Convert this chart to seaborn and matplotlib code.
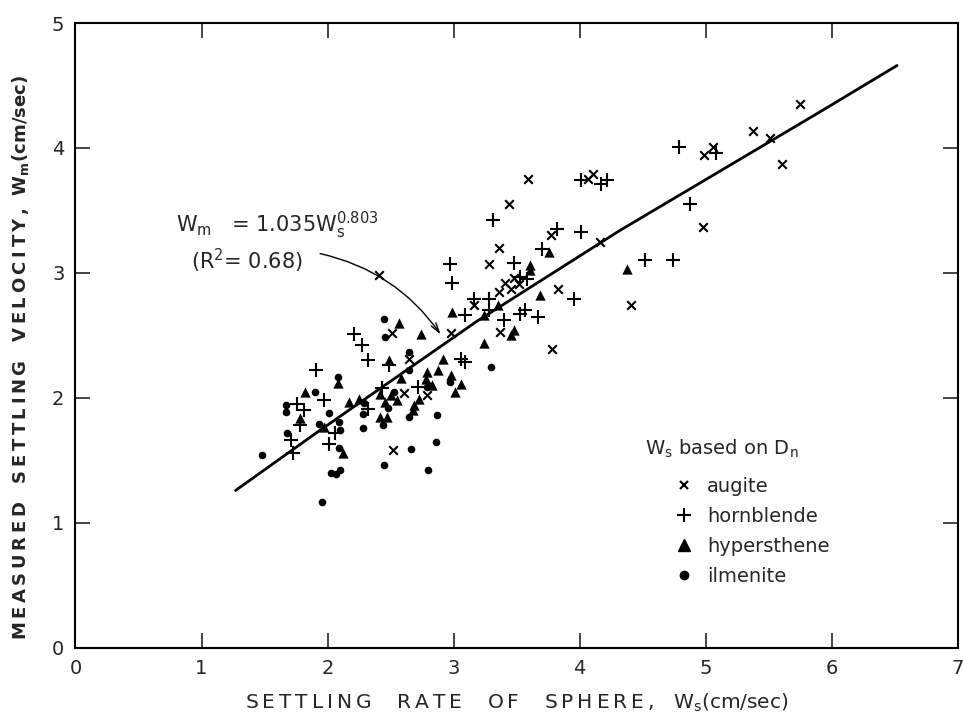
import matplotlib
matplotlib.use("Agg")
import matplotlib.pyplot as plt
from matplotlib.lines import Line2D
import numpy as np
import pandas as pd
import seaborn as sns

# values (Ws, Wm in cm/sec)
augite_ws = [3.59, 4.07, 4.11, 3.44, 3.77, 4.16, 3.36, 3.28, 3.41, 3.48, 3.52, 3.46, 3.36, 3.83, 3.16, 4.41,
             3.37, 2.98, 3.78, 2.51, 2.65, 2.61, 2.79, 2.52, 2.41, 5.75, 5.38, 5.51, 5.06, 4.99, 5.61, 4.98]
augite_wm = [3.75, 3.75, 3.79, 3.55, 3.30, 3.25, 3.20, 3.07, 2.92, 2.96, 2.91, 2.87, 2.85, 2.87, 2.74, 2.74,
             2.53, 2.52, 2.39, 2.52, 2.31, 2.04, 2.02, 1.58, 2.98, 4.35, 4.14, 4.08, 4.01, 3.94, 3.87, 3.37]

hornblende_ws = [4.01, 4.17, 4.22, 3.31, 3.82, 4.01, 3.70, 2.97, 3.48, 2.99, 3.53, 3.58, 3.16, 3.28, 3.96,
                 3.28, 3.09, 3.40, 3.53, 3.57, 3.67, 3.06, 3.09, 2.21, 2.27, 2.32, 2.49, 2.43, 2.72, 2.32,
                 1.91, 1.97, 1.76, 1.81, 1.78, 1.71, 1.73, 2.06, 2.01, 4.79, 5.08, 4.88, 4.52, 4.74]
hornblende_wm = [3.74, 3.71, 3.74, 3.42, 3.35, 3.33, 3.19, 3.07, 3.08, 2.92, 2.97, 2.95, 2.79, 2.79, 2.79,
                 2.70, 2.66, 2.62, 2.67, 2.70, 2.65, 2.31, 2.29, 2.51, 2.42, 2.30, 2.26, 2.08, 2.09, 1.91,
                 2.22, 1.98, 1.95, 1.90, 1.78, 1.66, 1.56, 1.72, 1.63, 4.01, 3.96, 3.55, 3.10, 3.10]

hypersthene_ws = [3.76, 3.61, 3.61, 4.38, 3.69, 2.99, 3.35, 3.24, 3.48, 3.46, 3.24, 2.92, 2.88, 2.98, 3.06,
                  3.01, 2.57, 2.74, 2.49, 2.79, 2.78, 2.58, 2.83, 2.73, 2.69, 2.68, 2.42, 2.50, 2.46, 2.55,
                  2.42, 2.47, 2.25, 2.17, 2.08, 1.82, 1.78, 1.97, 2.12]
hypersthene_wm = [3.17, 3.06, 3.02, 3.03, 2.82, 2.69, 2.74, 2.66, 2.54, 2.50, 2.44, 2.31, 2.22, 2.18, 2.11,
                  2.05, 2.60, 2.51, 2.30, 2.21, 2.15, 2.16, 2.10, 1.99, 1.94, 1.90, 2.03, 2.02, 1.97, 1.98,
                  1.85, 1.85, 1.99, 1.97, 2.12, 2.05, 1.84, 1.77, 1.56]

ilmenite_ws = [2.45, 2.46, 2.65, 2.65, 2.97, 2.79, 3.30, 2.53, 2.48, 2.44, 2.65, 2.87, 2.86, 2.66, 2.45, 2.80,
               2.29, 2.28, 2.28, 2.08, 1.90, 1.67, 1.67, 1.68, 1.48, 1.93, 2.01, 2.09, 2.10, 2.09, 2.03, 2.07,
               2.10, 1.96]
ilmenite_wm = [2.63, 2.49, 2.37, 2.22, 2.13, 2.09, 2.25, 2.05, 1.92, 1.78, 1.85, 1.86, 1.65, 1.59, 1.46, 1.42,
               1.96, 1.87, 1.76, 2.17, 2.05, 1.94, 1.89, 1.72, 1.54, 1.79, 1.88, 1.81, 1.74, 1.60, 1.40, 1.39,
               1.42, 1.17]

# fitted curve, points
fit_ws = [1.27, 1.91, 3.18, 4.32, 5.91, 6.52]
fit_wm = [1.26, 1.72, 2.61, 3.34, 4.29, 4.66]

minerals = ["augite", "hornblende", "hypersthene", "ilmenite"]
frames = []
for name, xs, ys in zip(minerals,
                        [augite_ws, hornblende_ws, hypersthene_ws, ilmenite_ws],
                        [augite_wm, hornblende_wm, hypersthene_wm, ilmenite_wm]):
    frames.append(pd.DataFrame({"ws": xs, "wm": ys, "mineral": name}))
df = pd.concat(frames, ignore_index=True)


def spaced(word):
    # wide lettering like the original drafting font
    return "\u2009".join(word)


sns.set_style("ticks")
plt.rcParams["font.family"] = ["DejaVu Sans"]

fig = plt.figure(figsize=(9.63, 7.19), dpi=100)
ax = fig.add_axes([0.0784, 0.0988, 0.9159, 0.8692])

# marker, size, linewidth
styles = {
    "augite": ("x", 38, 1.5),
    "hornblende": ("+", 95, 1.5),
    "hypersthene": ("^", 55, 0),
    "ilmenite": ("o", 30, 0),
}
for name in minerals:
    m, s, lw = styles[name]
    sub = df[df["mineral"] == name]
    sns.scatterplot(data=sub, x="ws", y="wm", marker=m, s=s, color="black",
                    linewidth=lw, edgecolor="black", ax=ax, legend=False, zorder=3)

sns.lineplot(x=fit_ws, y=fit_wm, sort=False, color="black", linewidth=2.0, ax=ax, zorder=2)

ax.set_xlim(0, 7)
ax.set_ylim(0, 5)
ax.set_xticks(range(0, 8))
ax.set_yticks(range(0, 6))
ax.tick_params(direction="in", length=11, width=1.2, top=True, right=True,
               labelsize=14, pad=8)
for sp in ax.spines.values():
    sp.set_linewidth(1.5)
    sp.set_color("black")

xlab = "    ".join([spaced("SETTLING"), spaced("RATE"), spaced("OF"), spaced("SPHERE,")])
ax.set_xlabel(xlab + "   W$_\\mathregular{s}$(cm/sec)", fontsize=14.5, va="center")
ax.xaxis.set_label_coords(0.50, -0.088)
ylab = "   ".join([spaced("MEASURED"), spaced("SETTLING"), spaced("VELOCITY,")])
ax.set_ylabel(ylab + "  W$_\\mathregular{m}$(cm/sec)", fontsize=13, fontweight="bold",
              va="center")
ax.yaxis.set_label_coords(-0.062, 0.465)

# equation and arrow
ax.text(0.80, 3.38, "W$_\\mathregular{m}$   = 1.035W$_\\mathregular{s}^\\mathregular{0.803}$",
        fontsize=15, va="center", ha="left")
ax.text(0.915, 3.10, "(R$^\\mathregular{2}$= 0.68)", fontsize=15, va="center", ha="left")
ax.annotate("", xy=(2.91, 2.49), xytext=(1.92, 3.16),
            arrowprops=dict(arrowstyle="->,head_length=0.7,head_width=0.2", color="black",
                            lw=1.0, connectionstyle="arc3,rad=-0.2"))

# legend
fig.text(645 / 963, 1 - 449 / 719, "W$_\\mathregular{s}$ based on D$_\\mathregular{n}$",
         fontsize=14, va="center", ha="left")
handles = [
    Line2D([], [], ls="none", marker="x", color="black", markersize=6, markeredgewidth=1.5),
    Line2D([], [], ls="none", marker="+", color="black", markersize=10, markeredgewidth=1.5),
    Line2D([], [], ls="none", marker="^", color="black", markersize=8),
    Line2D([], [], ls="none", marker="o", color="black", markersize=6),
]
fig.legend(handles, minerals, loc="upper left", bbox_to_anchor=(674 / 963, 1 - 477 / 719),
           frameon=False, fontsize=14, handlelength=1.0, handletextpad=0.7,
           labelspacing=0.56, borderpad=0, borderaxespad=0)

fig.savefig("out.png", dpi=100)
